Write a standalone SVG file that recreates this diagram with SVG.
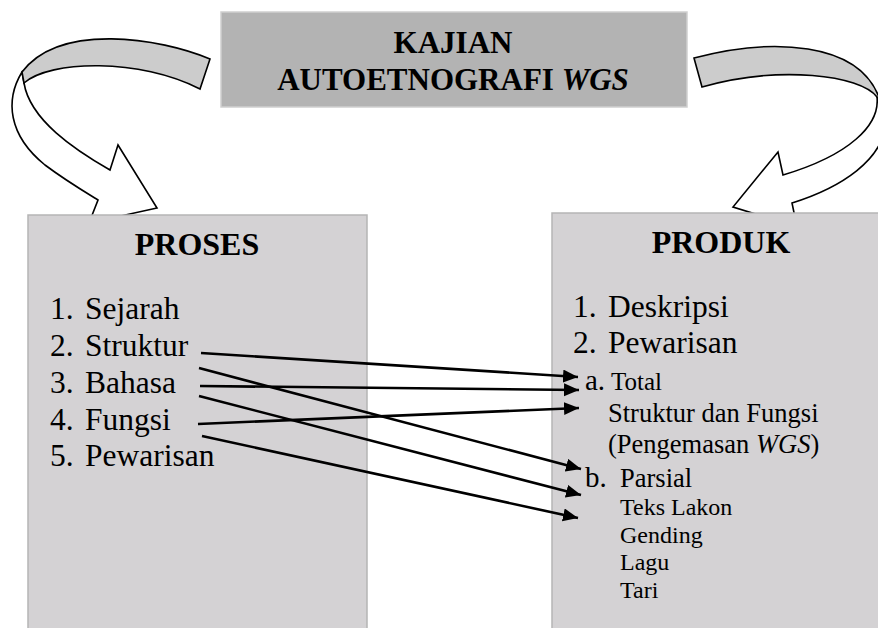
<svg xmlns="http://www.w3.org/2000/svg" width="878" height="628" viewBox="0 0 878 628">
<defs>
<marker id="ah" markerUnits="userSpaceOnUse" markerWidth="16" markerHeight="14" refX="15" refY="6.5" orient="auto">
<path d="M0,0 L15,6.5 L0,13 Z" fill="#000"/>
</marker>
</defs>
<rect width="878" height="628" fill="#fff"/>

<g id="top-node">
<rect x="221" y="12" width="466" height="95" fill="#b3b3b3" stroke="#cfcfcf" stroke-width="1.5"/>
<text style="font-family:'Liberation Serif',serif;font-weight:bold;font-size:31px" text-anchor="middle" x="453" y="53">KAJIAN</text>
<text style="font-family:'Liberation Serif',serif;font-weight:bold;font-size:31px" text-anchor="middle" x="453" y="90">AUTOETNOGRAFI <tspan font-style="italic">WGS</tspan></text>
</g>

<g id="left-curved-arrow" stroke="#000" stroke-width="1.6">
<path fill="#fff" d="M22,72 C5,100 8,135 45,165 C65,180 85,192 98,200 L89,223 L157,208 L118,145 L110,170 C75,150 30,120 24,83 Z"/>
<path fill="#cccccc" d="M210,59 C160,38 60,22 22,72 L24,83 C50,60 140,58 200,89 Z"/>
</g>

<g id="right-curved-arrow" stroke="#000" stroke-width="1.6">
<path fill="#fff" d="M877,97 C880,125 850,155 783,175 L778,152 L733,207 L797,227 L792,203 C840,188 885,160 886,120 L880,100 Z"/>
<path fill="#cccccc" d="M694,58 C770,38 860,40 880,100 L877,97 C860,75 780,65 702,87 Z"/>
</g>

<g id="proses">
<rect x="28" y="215" width="339" height="420" fill="#d4d2d4" stroke="#b5b5b5" stroke-width="1.5"/>
<text style="font-family:'Liberation Serif',serif;font-weight:bold;font-size:32px" text-anchor="middle" x="197" y="255">PROSES</text>
<text style="font-family:'Liberation Serif',serif;font-size:31.5px" x="50" y="319">1.</text><text style="font-family:'Liberation Serif',serif;font-size:31.5px" x="85" y="319">Sejarah</text>
<text style="font-family:'Liberation Serif',serif;font-size:31.5px" x="50" y="356">2.</text><text style="font-family:'Liberation Serif',serif;font-size:31.5px" x="85" y="356">Struktur</text>
<text style="font-family:'Liberation Serif',serif;font-size:31.5px" x="50" y="393">3.</text><text style="font-family:'Liberation Serif',serif;font-size:31.5px" x="85" y="393">Bahasa</text>
<text style="font-family:'Liberation Serif',serif;font-size:31.5px" x="50" y="430">4.</text><text style="font-family:'Liberation Serif',serif;font-size:31.5px" x="85" y="430">Fungsi</text>
<text style="font-family:'Liberation Serif',serif;font-size:31.5px" x="50" y="466">5.</text><text style="font-family:'Liberation Serif',serif;font-size:31.5px" x="85" y="466">Pewarisan</text>
</g>

<g id="produk">
<rect x="552" y="213" width="340" height="420" fill="#d4d2d4" stroke="#b5b5b5" stroke-width="1.5"/>
<text style="font-family:'Liberation Serif',serif;font-weight:bold;font-size:32px" text-anchor="middle" x="721" y="253">PRODUK</text>
<text style="font-family:'Liberation Serif',serif;font-size:31.5px" x="573" y="317">1.</text><text style="font-family:'Liberation Serif',serif;font-size:31.5px" x="608" y="317">Deskripsi</text>
<text style="font-family:'Liberation Serif',serif;font-size:31.5px" x="573" y="353">2.</text><text style="font-family:'Liberation Serif',serif;font-size:31.5px" x="608" y="353">Pewarisan</text>
<text style="font-family:'Liberation Serif',serif;font-size:29px" x="585" y="390">a.</text><text style="font-family:'Liberation Serif',serif;font-size:25px" x="611" y="390">Total</text>
<text style="font-family:'Liberation Serif',serif;font-size:26.5px" x="608" y="422">Struktur dan Fungsi</text>
<text style="font-family:'Liberation Serif',serif;font-size:26.5px" x="608" y="453">(Pengemasan <tspan font-style="italic">WGS</tspan>)</text>
<text style="font-family:'Liberation Serif',serif;font-size:29px" x="585" y="487">b.</text><text style="font-family:'Liberation Serif',serif;font-size:26.5px" x="620" y="487">Parsial</text>
<text style="font-family:'Liberation Serif',serif;font-size:24px" x="620" y="515">Teks Lakon</text>
<text style="font-family:'Liberation Serif',serif;font-size:24px" x="620" y="543">Gending</text>
<text style="font-family:'Liberation Serif',serif;font-size:24px" x="620" y="570">Lagu</text>
<text style="font-family:'Liberation Serif',serif;font-size:24px" x="620" y="598">Tari</text>
</g>

<g id="connectors" stroke="#000" stroke-width="2.6" fill="none">
<line x1="201" y1="353" x2="578" y2="377" marker-end="url(#ah)"/>
<line x1="200" y1="386" x2="579" y2="390" marker-end="url(#ah)"/>
<line x1="198" y1="424" x2="579" y2="408" marker-end="url(#ah)"/>
<line x1="199" y1="368" x2="581" y2="469" marker-end="url(#ah)"/>
<line x1="199" y1="396" x2="581" y2="495" marker-end="url(#ah)"/>
<line x1="202" y1="436" x2="578" y2="518" marker-end="url(#ah)"/>
</g>
</svg>
